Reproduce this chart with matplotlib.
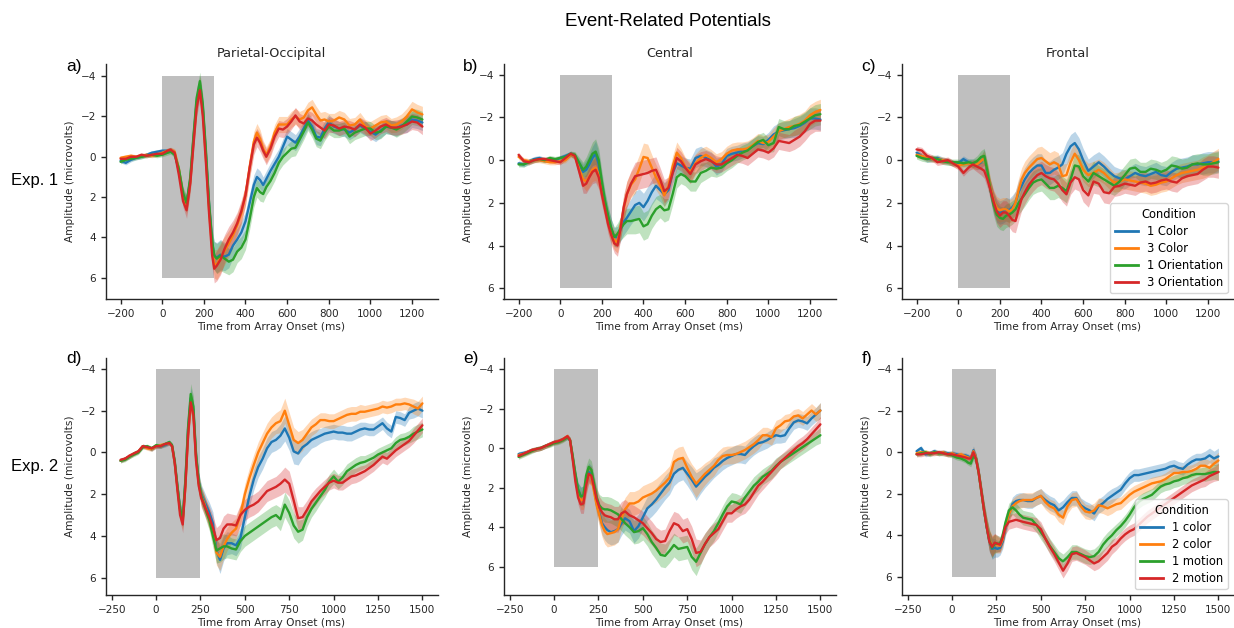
import matplotlib
matplotlib.use("Agg")
import matplotlib.pyplot as plt
from matplotlib.lines import Line2D

plt.rcParams['font.family'] = ['DejaVu Sans']

# ---------------- time grids (ms) ----------------
T_A = [-200, -175, -150, -125, -100, -75, -50, -25, 0, 25,
       40, 60, 80, 100, 117, 135, 150, 165, 181, 195, 210, 225, 240, 250, 262, 280, 300, 320, 340, 360,
       380, 400, 420, 440, 455, 470, 485, 500, 520, 540, 560, 580, 600, 620, 640, 660, 680, 700, 720, 740,
       760, 780, 800,
       825, 850, 875, 900, 925, 950, 975, 1000, 1025, 1050, 1075, 1100, 1125, 1150, 1175, 1200, 1225, 1250]

T_BC = [-200, -175, -150, -125, -100, -75, -50, -25, 0, 25,
        50, 70, 90, 110, 125, 140, 155, 170, 185, 200, 215, 230, 245, 260, 275, 290, 305, 320,
        340, 360, 380, 400, 420, 440, 460, 480, 500, 520, 540, 560, 580, 600,
        625, 650, 675, 700, 725, 750, 775, 800, 825, 850, 875, 900, 925, 950, 975, 1000, 1025, 1050,
        1075, 1100, 1125, 1150, 1175, 1200, 1225, 1250]

T_DEF = [-200, -175, -150, -125, -100, -75, -50, -25, 0, 25, 50, 75,
         90, 105, 120, 135, 150, 165, 180, 195, 210, 225, 240, 255, 270, 285, 300,
         320, 340, 360, 380, 400,
         425, 450, 475, 500, 525, 550, 575, 600, 625, 650,
         675, 700, 725, 750, 775, 800, 825, 850, 875, 900,
         925, 950, 975, 1000, 1025, 1050, 1075, 1100, 1125, 1150,
         1175, 1200, 1225, 1250, 1275, 1300, 1325, 1350, 1375, 1400,
         1425, 1450, 1475, 1500]

# ---------------- Panel a: Exp.1 Parietal-Occipital ----------------
A_BLUE = [0.2, 0.3, 0.15, 0.05, 0.0, -0.1, -0.2, -0.25, -0.3, -0.3,
          -0.35, -0.15, 0.7, 1.9, 2.35, 1.1, -0.9, -2.7, -3.55, -2.4, -0.1, 2.4, 4.3, 4.9, 5.0, 4.85, 4.95,
          4.85, 4.4, 4.1, 3.75, 3.2, 2.3, 1.4, 1.0, 1.15, 1.4, 1.1, 0.7, 0.35, 0.0, -0.5, -1.0, -0.85, -0.7,
          -1.0, -1.4, -1.8, -1.5, -1.0, -0.95, -1.4, -1.7,
          -1.5, -1.4, -1.35, -1.2, -1.35, -1.55, -1.4, -1.25, -1.1, -1.3, -1.5, -1.45, -1.4, -1.55, -1.6,
          -1.85, -1.8, -1.7]
A_ORANGE = [0.05, 0.0, -0.05, 0.0, -0.05, -0.1, -0.05, -0.1, -0.2, -0.3,
            -0.35, -0.25, 0.6, 1.9, 2.45, 1.2, -0.8, -2.6, -3.55, -2.3, 0.1, 2.6, 4.6, 5.3, 5.35, 5.0, 4.65,
            4.3, 3.9, 3.4, 2.8, 1.9, 0.5, -0.75, -1.2, -0.9, -0.4, -0.1, -0.5, -1.2, -1.6, -1.6, -1.6, -1.85,
            -2.0, -1.85, -1.95, -2.3, -2.45, -2.1, -1.8, -1.85, -1.75,
            -1.8, -1.95, -1.85, -1.55, -1.6, -1.85, -1.5, -1.4, -1.55, -1.7, -1.75, -1.55, -1.6, -1.75, -2.0,
            -2.35, -2.2, -2.1]
A_GREEN = [0.25, 0.15, 0.1, 0.05, 0.0, -0.05, -0.1, -0.05, -0.1, -0.2,
           -0.25, -0.1, 0.6, 1.8, 2.3, 1.0, -1.0, -2.9, -3.75, -2.6, -0.3, 2.3, 4.2, 4.9, 5.05, 4.9, 5.05,
           5.2, 5.1, 4.7, 4.5, 4.1, 3.1, 2.0, 1.55, 1.75, 1.85, 1.5, 1.2, 0.8, 0.3, 0.0, -0.2, -0.4, -0.45,
           -0.85, -1.25, -1.7, -1.35, -0.9, -0.8, -1.2, -1.5,
           -1.3, -1.3, -1.4, -1.0, -1.2, -1.3, -1.4, -1.4, -1.2, -1.25, -1.5, -1.45, -1.35, -1.5, -1.75,
           -2.0, -1.95, -1.85]
A_RED = [0.1, 0.1, 0.0, 0.0, -0.1, -0.05, -0.1, -0.15, -0.15, -0.3,
         -0.35, -0.2, 0.9, 2.2, 2.65, 1.3, -0.6, -2.4, -3.3, -2.0, 0.3, 2.8, 4.9, 5.55, 5.4, 5.1, 4.55,
         4.1, 3.75, 3.3, 2.7, 1.9, 0.55, -0.6, -0.95, -0.7, -0.3, 0.0, -0.4, -1.0, -1.4, -1.35, -1.5, -1.75,
         -2.05, -1.75, -1.65, -1.9, -1.8, -1.6, -1.45, -1.3, -1.6,
         -1.55, -1.4, -1.5, -1.45, -1.35, -1.6, -1.45, -1.15, -1.3, -1.5, -1.6, -1.45, -1.45, -1.5, -1.6,
         -1.75, -1.7, -1.5]
SE_A = [0.1, 0.1, 0.1, 0.1, 0.1, 0.1, 0.1, 0.1, 0.1, 0.12,
        0.12, 0.15, 0.2, 0.3, 0.4, 0.45, 0.45, 0.45, 0.45, 0.45,
        0.45, 0.5, 0.6, 0.7, 0.75, 0.75, 0.7, 0.65, 0.6, 0.55,
        0.55, 0.5, 0.5, 0.5, 0.45, 0.45, 0.4, 0.4, 0.4, 0.4,
        0.4, 0.4, 0.4, 0.4, 0.4, 0.4, 0.4, 0.4, 0.4, 0.4,
        0.4, 0.4, 0.4,
        0.35, 0.35, 0.35, 0.35, 0.35, 0.35, 0.35, 0.35, 0.35, 0.35, 0.35, 0.35, 0.38, 0.38, 0.4, 0.4,
        0.4, 0.4]

# ---------------- Panel b: Exp.1 Central ----------------
B_BLUE = [0.15, 0.2, 0.05, -0.05, -0.1, 0.0, -0.05, 0.0, -0.1, -0.2,
          -0.3, -0.2, 0.2, 0.55, 0.45, 0.2, -0.1, -0.3, 0.2, 1.2, 2.0, 2.7, 3.2, 3.6, 3.6, 3.25, 2.9, 2.7,
          2.4, 2.1, 2.0, 2.2, 1.9, 1.5, 1.2, 1.4, 1.6, 1.4, 0.6, 0.15, 0.25, 0.35,
          0.4, -0.1, -0.2, -0.1, 0.0, 0.3, 0.2, -0.2, -0.3, -0.35, -0.45, -0.5, -0.65, -0.8, -0.75, -0.95,
          -1.2, -1.35, -1.4, -1.45, -1.5, -1.6, -1.75, -1.95, -1.95, -1.9]
B_ORANGE = [-0.15, 0.0, 0.05, 0.0, 0.0, 0.05, 0.1, 0.1, 0.05, 0.0,
            -0.25, -0.2, 0.4, 0.9, 1.0, 0.75, 0.45, 0.35, 0.7, 1.5, 2.2, 2.9, 3.4, 3.75, 3.85, 3.1, 2.3, 1.6,
            1.15, 0.9, 0.4, -0.15, -0.1, 0.35, 0.8, 1.15, 1.65, 1.2, 0.3, -0.35, -0.1, 0.3,
            0.55, 0.15, -0.1, -0.25, -0.1, 0.1, -0.05, -0.3, -0.45, -0.5, -0.5, -0.55, -0.7, -0.9, -0.8,
            -0.85, -1.1, -1.35, -1.45, -1.55, -1.6, -1.7, -1.85, -2.1, -2.25, -2.35]
B_GREEN = [0.2, 0.2, 0.1, 0.0, -0.05, 0.0, -0.1, -0.05, -0.1, -0.15,
           -0.3, -0.25, 0.1, 0.45, 0.3, 0.0, -0.3, -0.4, 0.0, 1.0, 1.9, 2.6, 3.2, 3.6, 3.45, 3.2, 3.0, 2.85,
           2.85, 2.8, 2.75, 3.1, 3.0, 2.6, 2.3, 2.15, 2.35, 2.3, 1.6, 0.8, 0.65, 0.75,
           1.0, 1.0, 0.6, 0.5, 0.35, 0.4, 0.35, 0.15, 0.0, -0.2, -0.35, -0.45, -0.65, -0.85, -0.95, -0.7,
           -0.8, -1.55, -1.45, -1.45, -1.6, -1.65, -1.8, -1.95, -2.1, -2.15]
B_RED = [-0.25, 0.05, 0.1, 0.0, -0.05, -0.05, 0.0, 0.05, 0.1, -0.1,
         -0.3, -0.2, 0.5, 1.2, 1.1, 0.8, 0.55, 0.45, 0.8, 1.6, 2.3, 3.0, 3.5, 3.9, 4.0, 3.2, 2.2, 1.6,
         1.1, 0.75, 0.7, 0.65, 0.6, 0.5, 0.45, 0.9, 1.45, 1.3, 0.6, -0.1, 0.05, 0.35,
         0.65, 0.2, 0.05, -0.05, 0.05, 0.2, 0.2, 0.05, -0.1, -0.25, -0.2, -0.1, -0.3, -0.5, -0.45, -0.35,
         -0.55, -0.9, -0.85, -0.8, -0.95, -1.1, -1.35, -1.7, -1.85, -1.85]
SE_B = [0.12, 0.12, 0.12, 0.12, 0.12, 0.12, 0.12, 0.12, 0.12, 0.12,
        0.12, 0.15, 0.25, 0.35, 0.45, 0.5, 0.55, 0.6, 0.55, 0.5, 0.45, 0.45, 0.45, 0.45, 0.5, 0.55, 0.6, 0.6,
        0.6, 0.65, 0.65, 0.65, 0.65, 0.6, 0.6, 0.55, 0.55, 0.5, 0.5, 0.5, 0.45, 0.45,
        0.45, 0.45, 0.45, 0.4, 0.4, 0.4, 0.35, 0.35, 0.35, 0.35, 0.35, 0.35, 0.35, 0.35, 0.35, 0.35,
        0.4, 0.4, 0.4, 0.4, 0.45, 0.45, 0.45, 0.5, 0.5, 0.5]

# ---------------- Panel c: Exp.1 Frontal ----------------
C_BLUE = [-0.35, -0.2, -0.05, -0.05, -0.1, 0.0, 0.05, 0.15, 0.15, -0.05,
          0.1, 0.15, 0.2, 0.1, -0.15, 0.6, 1.4, 2.0, 2.35, 2.45, 2.4, 2.3, 2.35, 2.2, 2.0, 1.5, 1.2, 0.9,
          0.6, 0.4, 0.25, 0.25, 0.6, 0.6, 0.45, 0.35, 0.2, -0.3, -0.65, -0.8, -0.5, 0.0,
          0.5, 0.3, 0.1, 0.3, 0.55, 0.75, 0.85, 0.9, 0.75, 0.6, 0.7, 0.75, 0.65, 0.55, 0.7, 0.75,
          0.55, 0.4, 0.35, 0.3, 0.2, 0.2, 0.15, 0.1, 0.1, 0.05]
C_ORANGE = [-0.25, -0.2, -0.1, -0.05, -0.05, 0.0, 0.05, 0.15, 0.25, 0.2,
            0.15, 0.2, 0.2, 0.05, -0.1, 0.5, 1.3, 1.9, 2.25, 2.35, 2.3, 2.3, 2.4, 2.3, 2.0, 1.4, 0.9, 0.6,
            0.35, 0.15, -0.05, -0.1, 0.05, 0.2, 0.1, 0.2, 0.75, 0.7, 0.1, -0.3, 0.0, 0.45,
            0.7, 0.6, 0.45, 0.6, 0.85, 1.05, 1.0, 0.9, 0.95, 1.0, 1.05, 1.1, 1.2, 1.15, 1.05, 1.0,
            0.85, 0.7, 0.6, 0.55, 0.5, 0.45, 0.35, 0.25, 0.1, -0.05]
C_GREEN = [-0.2, -0.1, -0.05, -0.1, -0.05, 0.05, 0.1, 0.1, 0.1, 0.15,
           0.1, 0.15, 0.05, -0.15, -0.2, 0.5, 1.4, 2.1, 2.55, 2.7, 2.75, 2.6, 2.55, 2.45, 2.3, 2.0, 1.8, 1.6,
           1.3, 1.05, 0.95, 0.9, 1.1, 1.3, 1.3, 1.2, 1.3, 1.45, 0.9, 0.25, 0.3, 0.75,
           1.0, 0.6, 0.75, 0.9, 1.05, 1.2, 1.0, 0.7, 0.4, 0.35, 0.55, 0.55, 0.4, 0.45, 0.55, 0.45,
           0.25, 0.3, 0.4, 0.35, 0.2, 0.15, 0.2, 0.2, 0.15, 0.1]
C_RED = [-0.5, -0.45, -0.2, -0.1, 0.1, 0.05, 0.0, 0.15, 0.3, 0.6,
         0.35, 0.2, 0.3, 0.4, 0.5, 0.9, 1.4, 1.95, 2.4, 2.6, 2.45, 2.45, 2.6, 2.8, 2.85, 2.3, 1.8, 1.5,
         1.15, 0.9, 0.7, 0.6, 0.75, 0.85, 0.9, 1.1, 1.4, 1.6, 1.05, 0.8, 0.9, 1.4,
         1.65, 1.0, 1.1, 1.5, 1.55, 1.25, 1.2, 1.1, 1.15, 1.2, 1.05, 1.0, 1.1, 1.05, 0.95, 0.9,
         1.0, 1.05, 0.85, 0.75, 0.7, 0.65, 0.45, 0.3, 0.3, 0.35]
SE_C = [0.15, 0.15, 0.15, 0.15, 0.15, 0.15, 0.15, 0.15, 0.15, 0.15,
        0.15, 0.2, 0.25, 0.3, 0.35, 0.4, 0.45, 0.5, 0.55, 0.55, 0.55, 0.55, 0.55, 0.55, 0.55, 0.55, 0.55, 0.55,
        0.55, 0.55, 0.55, 0.55, 0.55, 0.55, 0.55, 0.55, 0.55, 0.55, 0.55, 0.55, 0.55, 0.55,
        0.55, 0.55, 0.5, 0.5, 0.5, 0.45, 0.45, 0.45, 0.45, 0.45, 0.45, 0.45, 0.45, 0.45, 0.45, 0.45,
        0.45, 0.45, 0.45, 0.45, 0.45, 0.45, 0.5, 0.5, 0.5, 0.5]

# ---------------- Panel d: Exp.2 Parietal-Occipital ----------------
D_BLUE = [0.4, 0.3, 0.2, 0.05, -0.05, -0.3, -0.25, -0.15, -0.3, -0.3, -0.35, -0.45,
          -0.3, 0.5, 1.6, 2.7, 3.15, 1.4, -1.1, -2.6, -2.0, 0.2, 1.4, 2.0, 2.3, 2.6, 2.9,
          3.4, 4.7, 5.15, 4.6, 4.35,
          4.35, 4.45, 4.1, 3.1, 2.1, 1.3, 0.7, 0.3, -0.2, -0.5,
          -0.6, -0.8, -1.15, -0.7, -0.05, 0.05, -0.25, -0.4, -0.6, -0.7,
          -0.8, -0.9, -0.95, -1.0, -0.95, -0.95, -0.9, -0.9, -1.0, -1.1,
          -1.15, -1.1, -1.1, -1.25, -1.4, -1.15, -1.0, -1.7, -1.65, -1.55,
          -1.9, -2.0, -2.1, -2.0]
D_ORANGE = [0.4, 0.3, 0.2, 0.05, -0.05, -0.3, -0.2, -0.15, -0.3, -0.35, -0.4, -0.45,
            -0.3, 0.5, 1.7, 2.8, 3.3, 1.6, -0.9, -2.4, -1.9, 0.3, 1.5, 2.1, 2.4, 2.8, 3.2,
            3.8, 4.8, 5.0, 4.5, 4.15,
            3.85, 3.65, 3.0, 2.0, 1.25, 0.6, 0.0, -0.45, -0.9, -1.2,
            -1.4, -1.5, -2.0, -1.3, -0.6, -0.45, -0.6, -0.9, -1.2, -1.35,
            -1.55, -1.55, -1.5, -1.5, -1.6, -1.7, -1.8, -1.85, -1.85, -1.95,
            -1.95, -2.0, -2.05, -2.1, -2.2, -2.15, -2.2, -2.3, -2.3, -2.35,
            -2.3, -2.2, -2.1, -2.35]
D_GREEN = [0.4, 0.35, 0.2, 0.1, 0.0, -0.25, -0.3, -0.2, -0.35, -0.3, -0.4, -0.5,
           -0.35, 0.4, 1.6, 2.7, 3.2, 1.3, -1.2, -2.8, -2.2, 0.1, 1.4, 2.1, 2.5, 2.9, 3.25,
           4.0, 4.7, 4.6, 4.5, 4.5,
           4.6, 4.65, 4.25, 4.0, 3.85, 3.7, 3.55, 3.4, 3.25, 3.1,
           3.0, 3.2, 2.5, 2.9, 3.5, 3.8, 3.7, 3.1, 2.7, 2.4,
           2.1, 1.8, 1.4, 1.15, 1.4, 1.2, 0.9, 0.75, 0.6, 0.5,
           0.45, 0.35, 0.25, 0.1, 0.0, -0.1, -0.2, -0.45, -0.6, -0.65,
           -0.75, -0.9, -1.0, -1.1]
D_RED = [0.35, 0.3, 0.15, 0.05, -0.05, -0.3, -0.25, -0.2, -0.3, -0.3, -0.4, -0.45,
         -0.3, 0.5, 1.8, 3.0, 3.45, 1.6, -0.8, -2.4, -1.8, 0.4, 1.6, 2.2, 2.5, 2.8, 3.1,
         3.6, 4.2, 4.1, 3.65, 3.45,
         3.45, 3.5, 3.0, 2.75, 2.6, 2.5, 2.35, 2.1, 1.85, 1.75,
         1.65, 1.5, 1.3, 1.5, 2.3, 3.15, 3.1, 2.75, 2.35, 2.1,
         1.85, 1.65, 1.45, 1.35, 1.45, 1.45, 1.3, 1.15, 1.1, 1.0,
         0.9, 0.75, 0.6, 0.4, 0.2, 0.3, 0.1, -0.1, -0.25, -0.4,
         -0.55, -0.8, -1.05, -1.3]
SE_D = [0.1, 0.1, 0.1, 0.1, 0.1, 0.1, 0.1, 0.1, 0.1, 0.1, 0.1, 0.1,
        0.12, 0.15, 0.2, 0.3, 0.4, 0.45, 0.5, 0.5, 0.5, 0.45, 0.45, 0.45, 0.45, 0.45, 0.5,
        0.55, 0.6, 0.65, 0.6, 0.55,
        0.5, 0.5, 0.5, 0.5, 0.5, 0.5, 0.5, 0.5, 0.5, 0.5,
        0.5, 0.55, 0.6, 0.6, 0.6, 0.55, 0.5, 0.45, 0.4, 0.4,
        0.35, 0.35, 0.35, 0.35, 0.35, 0.35, 0.35, 0.35, 0.35, 0.35,
        0.3, 0.3, 0.3, 0.3, 0.3, 0.3, 0.3, 0.3, 0.3, 0.3,
        0.3, 0.35, 0.35, 0.35]

# ---------------- Panel e: Exp.2 Central ----------------
E_BLUE = [0.3, 0.25, 0.2, 0.1, 0.05, 0.0, -0.1, -0.2, -0.3, -0.35, -0.45, -0.55,
          -0.4, 0.5, 1.4, 2.1, 2.4, 2.45, 1.7, 1.2, 1.35, 2.0, 2.8, 3.3, 3.8, 4.0, 4.15,
          4.25, 4.2, 4.1, 3.8, 3.55,
          3.7, 4.2, 3.95, 3.5, 3.05, 2.85, 2.6, 2.3, 2.0, 1.75,
          1.3, 1.1, 1.0, 1.3, 1.6, 1.95, 1.7, 1.45, 1.25, 1.0,
          0.85, 0.65, 0.5, 0.4, 0.3, 0.3, 0.35, 0.1, -0.1, -0.25,
          -0.3, -0.4, -0.55, -0.65, -0.6, -0.65, -1.0, -1.3, -1.4, -1.35,
          -1.25, -1.5, -1.7, -1.9]
E_ORANGE = [0.35, 0.3, 0.2, 0.1, 0.05, 0.0, -0.1, -0.2, -0.3, -0.35, -0.45, -0.6,
            -0.4, 0.5, 1.5, 2.3, 2.65, 2.6, 1.8, 1.35, 1.45, 2.2, 2.9, 3.4, 3.9, 4.2, 4.35,
            4.3, 4.25, 4.1, 3.5, 3.1,
            2.8, 2.8, 2.7, 2.5, 2.4, 2.3, 2.15, 1.95, 1.75, 1.5,
            0.7, 0.55, 0.5, 1.0, 1.45, 1.8, 1.55, 1.3, 1.1, 0.9,
            0.6, 0.4, 0.35, 0.35, 0.3, 0.2, 0.1, -0.05, -0.2, -0.4,
            -0.65, -0.65, -0.55, -1.0, -1.15, -1.35, -1.4, -1.6, -1.65, -1.5,
            -1.7, -1.9, -1.7, -1.9]
E_GREEN = [0.45, 0.35, 0.25, 0.15, 0.05, 0.0, -0.1, -0.15, -0.25, -0.3, -0.4, -0.55,
           -0.4, 0.4, 1.3, 2.1, 2.45, 2.4, 1.4, 0.95, 1.1, 1.8, 2.5, 2.9, 3.05, 3.1, 3.1,
           3.15, 3.25, 3.35, 3.6, 3.8,
           4.0, 4.25, 4.2, 4.05, 4.35, 4.75, 5.05, 5.4, 5.45, 5.2,
           4.9, 5.1, 5.05, 5.0, 5.5, 5.75, 5.3, 4.85, 4.5, 4.2,
           3.8, 3.35, 2.95, 2.7, 2.75, 2.85, 2.5, 2.2, 1.9, 1.7,
           1.45, 1.3, 1.15, 0.9, 0.7, 0.55, 0.4, 0.25, 0.1, -0.05,
           -0.2, -0.35, -0.5, -0.65]
E_RED = [0.4, 0.3, 0.2, 0.1, 0.05, 0.0, -0.1, -0.2, -0.3, -0.35, -0.45, -0.6,
         -0.4, 0.6, 1.7, 2.5, 2.85, 2.8, 1.9, 1.3, 1.4, 2.0, 2.6, 3.0, 3.25, 3.4, 3.45,
         3.5, 3.6, 3.6, 3.3, 3.2,
         3.4, 3.5, 3.65, 3.8, 4.05, 4.3, 4.6, 4.75, 4.7, 4.2,
         3.8, 3.9, 4.2, 4.1, 4.6, 5.3, 5.25, 4.85, 4.5, 4.3,
         4.1, 3.7, 3.3, 3.3, 3.1, 2.95, 2.85, 2.6, 2.25, 1.9,
         1.7, 1.45, 1.2, 0.95, 0.7, 0.5, 0.3, 0.1, -0.1, -0.25,
         -0.45, -0.7, -0.95, -1.2]
SE_E = [0.12, 0.12, 0.12, 0.12, 0.12, 0.12, 0.12, 0.12, 0.12, 0.12, 0.12, 0.12,
        0.15, 0.2, 0.25, 0.35, 0.45, 0.5, 0.5, 0.45, 0.45, 0.45, 0.5, 0.55, 0.6, 0.65, 0.65,
        0.65, 0.65, 0.65, 0.6, 0.6,
        0.6, 0.6, 0.6, 0.6, 0.6, 0.6, 0.6, 0.6, 0.6, 0.6,
        0.6, 0.6, 0.6, 0.6, 0.65, 0.7, 0.6, 0.55, 0.5, 0.5,
        0.45, 0.45, 0.45, 0.45, 0.45, 0.45, 0.45, 0.45, 0.45, 0.45,
        0.4, 0.4, 0.4, 0.4, 0.35, 0.35, 0.35, 0.35, 0.35, 0.35,
        0.35, 0.35, 0.35, 0.4]

# ---------------- Panel f: Exp.2 Frontal ----------------
F_BLUE = [-0.05, -0.2, 0.1, 0.05, -0.05, 0.05, 0.0, 0.05, 0.05, 0.1, 0.15, 0.15,
          0.2, 0.3, -0.1, 0.3, 1.0, 1.9, 2.8, 3.6, 4.25, 4.65, 4.6, 4.65, 4.6, 4.3, 3.7,
          3.0, 2.5, 2.35, 2.3, 2.3,
          2.35, 2.35, 2.2, 2.1, 2.3, 2.45, 2.55, 2.8, 2.65, 2.4,
          2.2, 2.2, 2.55, 2.7, 2.8, 2.95, 2.6, 2.45, 2.25, 2.1,
          1.95, 1.8, 1.5, 1.25, 1.1, 1.1, 1.05, 1.0, 0.95, 0.9,
          0.85, 0.8, 0.7, 0.65, 0.75, 0.8, 0.6, 0.45, 0.35, 0.35,
          0.3, 0.15, 0.3, 0.2]
F_ORANGE = [0.05, 0.0, 0.0, 0.05, 0.0, 0.05, 0.0, 0.1, 0.05, 0.15, 0.1, 0.2,
            0.25, 0.3, -0.05, 0.3, 1.0, 1.9, 2.8, 3.55, 4.2, 4.5, 4.4, 4.45, 4.5, 4.2, 3.6,
            3.0, 2.6, 2.45, 2.35, 2.3,
            2.3, 2.3, 2.2, 2.1, 2.4, 2.6, 2.7, 3.0, 3.15, 2.6,
            2.3, 2.25, 2.6, 2.85, 2.9, 2.8, 2.55, 2.6, 2.7, 2.6,
            2.5, 2.45, 2.25, 2.05, 1.9, 1.8, 1.7, 1.6, 1.5, 1.45,
            1.4, 1.3, 1.15, 1.0, 1.0, 0.95, 0.95, 0.9, 0.8, 0.65,
            0.65, 0.75, 0.55, 0.4]
F_GREEN = [0.1, 0.05, 0.0, 0.1, 0.0, 0.05, 0.05, 0.1, 0.15, 0.25, 0.3, 0.4,
           0.5, 0.55, 0.2, 0.3, 1.0, 1.9, 2.8, 3.6, 4.25, 4.6, 4.4, 4.4, 4.4, 4.0, 3.4,
           2.8, 2.65, 2.8, 3.0, 3.15,
           3.2, 3.25, 3.5, 3.85, 4.15, 4.5, 4.8, 5.1, 5.25, 5.05,
           4.8, 4.8, 4.9, 5.0, 5.05, 5.0, 4.8, 4.45, 4.2, 4.0,
           3.75, 3.55, 3.3, 3.0, 2.65, 2.4, 2.25, 2.15, 2.05, 1.85,
           1.65, 1.55, 1.5, 1.4, 1.35, 1.25, 1.2, 1.1, 1.05, 1.05,
           1.05, 1.0, 0.95, 0.95]
F_RED = [0.1, 0.1, 0.05, 0.05, 0.05, 0.0, 0.05, 0.1, 0.1, 0.15, 0.2, 0.25,
         0.3, 0.3, 0.0, 0.35, 1.0, 1.9, 2.8, 3.6, 4.3, 4.55, 4.35, 4.4, 4.45, 4.1, 3.6,
         3.35, 3.3, 3.25, 3.3, 3.35,
         3.4, 3.45, 3.5, 3.7, 4.15, 4.55, 4.9, 5.3, 5.7, 5.35,
         4.9, 4.85, 4.95, 5.05, 5.2, 5.35, 5.25, 5.05, 4.85, 4.55,
         4.4, 4.15, 3.95, 3.8, 3.7, 3.5, 3.3, 3.1, 2.95, 2.8,
         2.65, 2.5, 2.35, 2.2, 2.05, 1.9, 1.75, 1.6, 1.5, 1.4,
         1.3, 1.15, 1.05, 0.95]
SE_F = [0.12, 0.12, 0.12, 0.12, 0.12, 0.12, 0.12, 0.12, 0.12, 0.12, 0.12, 0.12,
        0.12, 0.15, 0.2, 0.25, 0.3, 0.35, 0.4, 0.45, 0.5, 0.5, 0.45, 0.4, 0.35, 0.35, 0.35,
        0.35, 0.35, 0.35, 0.35, 0.35,
        0.35, 0.35, 0.35, 0.35, 0.35, 0.35, 0.35, 0.35, 0.35, 0.35,
        0.35, 0.35, 0.35, 0.35, 0.35, 0.35, 0.35, 0.35, 0.35, 0.35,
        0.3, 0.3, 0.3, 0.3, 0.3, 0.3, 0.3, 0.3, 0.3, 0.3,
        0.3, 0.3, 0.3, 0.3, 0.3, 0.3, 0.3, 0.3, 0.3, 0.3,
        0.35, 0.35, 0.35, 0.4]

# ---------------- labels / ticks ----------------
COLORS = ['#1f77b4', '#ff7f0e', '#2ca02c', '#d62728']
LABELS_EXP1 = ['1 Color', '3 Color', '1 Orientation', '3 Orientation']
LABELS_EXP2 = ['1 color', '2 color', '1 motion', '2 motion']
REGIONS = ['Parietal-Occipital', 'Central', 'Frontal']
XTICKS_EXP1 = [-200, 0, 200, 400, 600, 800, 1000, 1200]
XTICKS_EXP2 = [-250, 0, 250, 500, 750, 1000, 1250, 1500]
YTICKS = [-4, -2, 0, 2, 4, 6]
STIM_WINDOW = (0, 250)
STIM_RANGE = (-4, 6)

PANELS = [
    dict(letter='a)', title=REGIONS[0], t=T_A, series=[A_BLUE, A_ORANGE, A_GREEN, A_RED], se=SE_A,
         xticks=XTICKS_EXP1, xlim=(-272.5, 1322.5), ylim=(7.05, -4.6), legend=None),
    dict(letter='b)', title=REGIONS[1], t=T_BC, series=[B_BLUE, B_ORANGE, B_GREEN, B_RED], se=SE_B,
         xticks=XTICKS_EXP1, xlim=(-272.5, 1322.5), ylim=(6.5, -4.5), legend=None),
    dict(letter='c)', title=REGIONS[2], t=T_BC, series=[C_BLUE, C_ORANGE, C_GREEN, C_RED], se=SE_C,
         xticks=XTICKS_EXP1, xlim=(-272.5, 1322.5), ylim=(6.5, -4.5), legend=LABELS_EXP1),
    dict(letter='d)', title=None, t=T_DEF, series=[D_BLUE, D_ORANGE, D_GREEN, D_RED], se=SE_D,
         xticks=XTICKS_EXP2, xlim=(-285, 1585), ylim=(6.83, -4.51), legend=None),
    dict(letter='e)', title=None, t=T_DEF, series=[E_BLUE, E_ORANGE, E_GREEN, E_RED], se=SE_E,
         xticks=XTICKS_EXP2, xlim=(-285, 1585), ylim=(7.43, -4.54), legend=None),
    dict(letter='f)', title=None, t=T_DEF, series=[F_BLUE, F_ORANGE, F_GREEN, F_RED], se=SE_F,
         xticks=XTICKS_EXP2, xlim=(-285, 1585), ylim=(6.87, -4.52), legend=LABELS_EXP2),
]

W, H = 1234, 628
fig = plt.figure(figsize=(W / 100, H / 100), dpi=100)

col_left = [105.5, 503.5, 901.5]
ax_w = 332.0
row_top = [64.0, 358.3]
row_bot = [299.0, 595.0]
letter_x = [66.5, 463.0, 861.5]
letter_base = [71.0, 363.0]
ARIAL = ['Liberation Sans', 'DejaVu Sans']
DARK = '0.15'

for i, p in enumerate(PANELS):
    r, c = divmod(i, 3)
    for name, s in zip(['b', 'o', 'g', 'r'], p['series']):
        assert len(s) == len(p['t']), (p['letter'], name, len(s), len(p['t']))
    assert len(p['se']) == len(p['t']), (p['letter'], 'se', len(p['se']))
    ax = fig.add_axes([col_left[c] / W, 1 - row_bot[r] / H, ax_w / W, (row_bot[r] - row_top[r]) / H])
    ax.fill_between(list(STIM_WINDOW), STIM_RANGE[0], STIM_RANGE[1], color='#bfbfbf', lw=0, zorder=1)
    for s, col in zip(p['series'], COLORS):
        lo = [v - e for v, e in zip(s, p['se'])]
        hi = [v + e for v, e in zip(s, p['se'])]
        ax.fill_between(p['t'], lo, hi, color=col, alpha=0.3, lw=0, zorder=2)
    for s, col in zip(p['series'], COLORS):
        ax.plot(p['t'], s, color=col, lw=1.7, zorder=3, solid_capstyle='round')
    ax.set_xlim(*p['xlim'])
    ax.set_ylim(*p['ylim'])
    ax.set_xticks(p['xticks'])
    ax.set_yticks(YTICKS)
    for side in ['top', 'right']:
        ax.spines[side].set_visible(False)
    for side in ['left', 'bottom']:
        ax.spines[side].set_color(DARK)
        ax.spines[side].set_linewidth(1.0)
    ax.tick_params(labelsize=7.5, length=3.5, width=1.0, color=DARK, labelcolor=DARK)
    ax.set_xlabel('Time from Array Onset (ms)', fontsize=7.6, color=DARK, labelpad=2)
    ax.set_ylabel('Amplitude (microvolts)', fontsize=7.6, color=DARK)
    if p['title']:
        ax.set_title(p['title'], fontsize=9.2, color=DARK, pad=5)
    if p['legend']:
        handles = [Line2D([], [], color=col, lw=2) for col in COLORS]
        leg = ax.legend(handles, p['legend'], title='Condition', loc='lower right',
                        fontsize=8.3, title_fontsize=8.3, frameon=True, borderaxespad=0.5,
                        labelspacing=0.34, handlelength=2.0)
        leg.get_frame().set_edgecolor('0.8')
    fig.text(letter_x[c] / W, 1 - letter_base[r] / H, p['letter'], ha='left', va='baseline',
             fontsize=12.5, family=ARIAL, color='black')

fig.text(668 / W, 1 - 21 / H, 'Event-Related Potentials', ha='center', va='center',
         fontsize=13.5, family=ARIAL, color='black')
fig.text(35 / W, 1 - 181 / H, 'Exp. 1', ha='center', va='center', fontsize=12, family=ARIAL)
fig.text(35 / W, 1 - 467 / H, 'Exp. 2', ha='center', va='center', fontsize=12, family=ARIAL)

fig.savefig('out.png', dpi=100)
